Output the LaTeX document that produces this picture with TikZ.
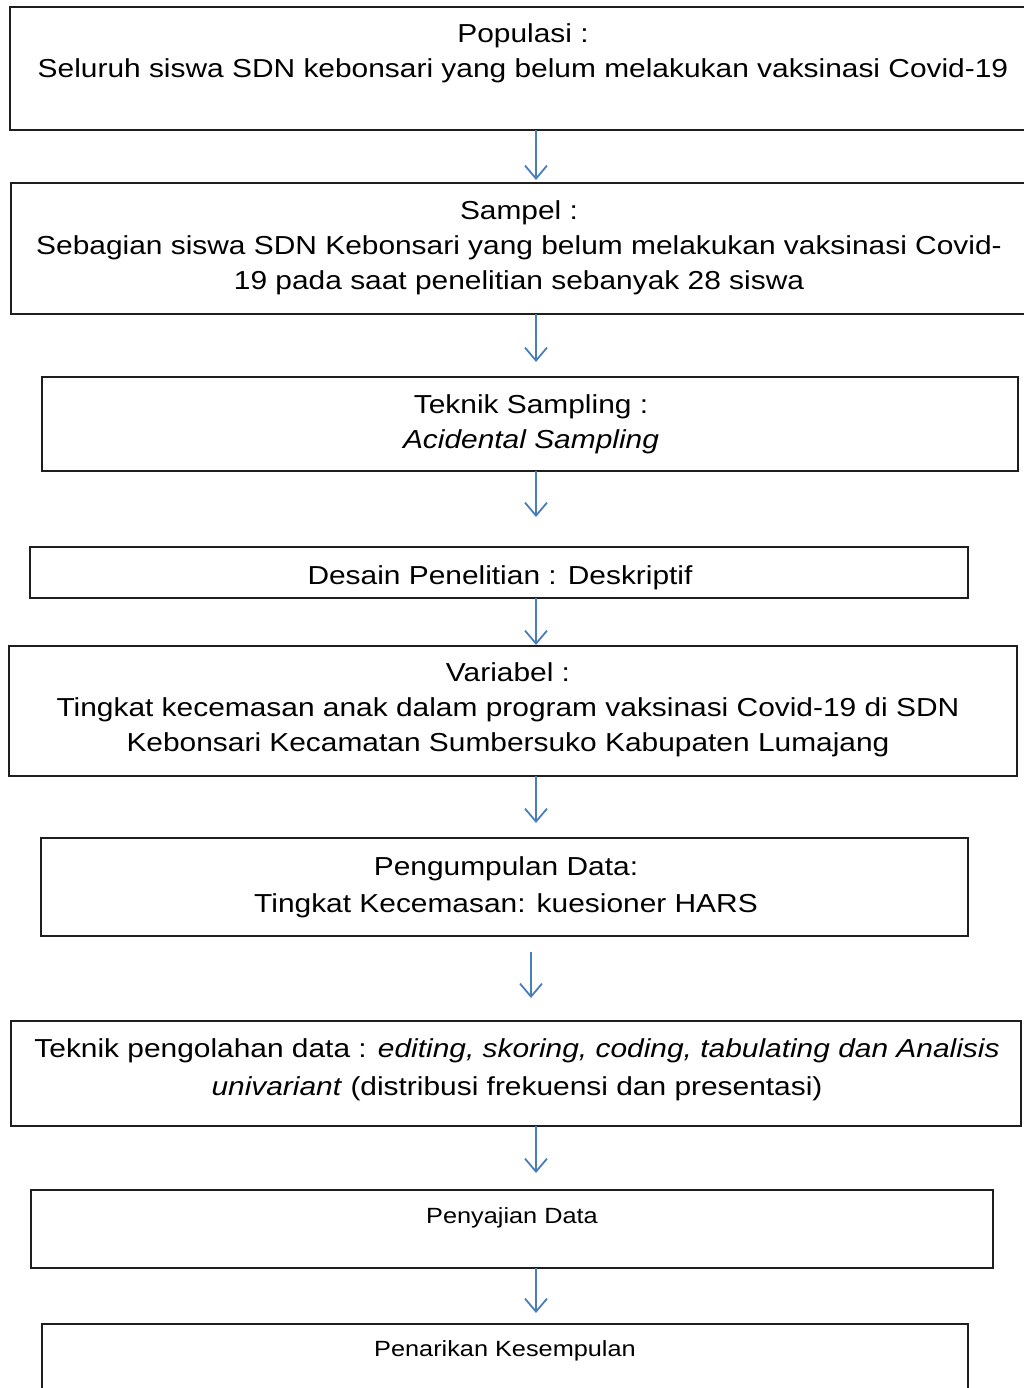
\documentclass[tikz,border=0pt]{standalone}
\usepackage{fontspec}
\setmainfont{Liberation Sans}[FakeStretch=1.15]
\usetikzlibrary{arrows.meta}
\definecolor{arrblue}{HTML}{4A7EBB}
\definecolor{boxline}{HTML}{1E1E1E}
\tikzset{
  flowbox/.style={draw=boxline, line width=2.2pt, fill=none},
  bigtext/.style={anchor=north, inner sep=0pt, align=center, font=\fontsize{26}{35}\selectfont},
  smalltext/.style={anchor=north, inner sep=0pt, align=center, font=\fontsize{22}{28}\selectfont},
  arr/.style={draw=arrblue, line width=1.8pt, -{Straight Barb[length=13pt,width=22pt,line width=1.8pt]}}
}
\begin{document}
\begin{tikzpicture}[x=1pt,y=-1pt]
\useasboundingbox (0,0) rectangle (1024,1388);
\clip (0,0) rectangle (1024,1388);
% boxes
\draw[flowbox] (10,7) rectangle (1040,130);
\draw[flowbox] (11,183) rectangle (1040,314);
\draw[flowbox] (42,377) rectangle (1018,471);
\draw[flowbox] (30,547) rectangle (968,598);
\draw[flowbox] (9,646) rectangle (1017,776);
\draw[flowbox] (41,838) rectangle (968,936);
\draw[flowbox] (11,1021) rectangle (1021,1126);
\draw[flowbox] (31,1190) rectangle (993,1268);
\draw[flowbox] (42,1324) rectangle (968,1400);
% anchor coordinates for connectors
\coordinate (a1s) at (536,130);
\coordinate (a2n) at (536,180);
\coordinate (a2s) at (536,314);
\coordinate (a3n) at (536,362);
\coordinate (a3s) at (536,471);
\coordinate (a4n) at (536,517);
\coordinate (a4s) at (536,598);
\coordinate (a5n) at (536,645);
\coordinate (a5s) at (536,776);
\coordinate (a6n) at (536,823);
\coordinate (a6s) at (531,952);
\coordinate (a7n) at (531,998);
\coordinate (a7s) at (536,1126);
\coordinate (a8n) at (536,1173);
\coordinate (a8s) at (536,1268);
\coordinate (a9n) at (536,1313);
% texts
\node[bigtext] (t1) at (523,23) {Populasi :\\Seluruh siswa SDN kebonsari yang belum melakukan vaksinasi Covid-19};
\node[bigtext] (t2) at (519,200) {Sampel :\\Sebagian siswa SDN Kebonsari yang belum melakukan vaksinasi Covid-\\19 pada saat penelitian sebanyak 28 siswa};
\node[bigtext] (t3) at (531,394) {Teknik Sampling :\\\textit{Acidental Sampling}};
\node[bigtext] (t4) at (500,565) {Desain Penelitian : Deskriptif};
\node[bigtext] (t5) at (508,662) {Variabel :\\Tingkat kecemasan anak dalam program vaksinasi Covid-19 di SDN\\Kebonsari Kecamatan Sumbersuko Kabupaten Lumajang};
\node[bigtext, font=\fontsize{26}{37}\selectfont] (t6) at (506,856) {Pengumpulan Data:\\Tingkat Kecemasan: kuesioner HARS};
\node[bigtext, font=\fontsize{26}{38}\selectfont] (t7) at (517,1038) {Teknik pengolahan data : \textit{editing, skoring, coding, tabulating dan Analisis}\\\textit{univariant} (distribusi frekuensi dan presentasi)};
\node[smalltext] (t8) at (512,1207) {Penyajian Data};
\node[smalltext] (t9) at (505,1340) {Penarikan Kesempulan};
% connectors
\draw[arr] (a1s) -- (a2n);
\draw[arr] (a2s) -- (a3n);
\draw[arr] (a3s) -- (a4n);
\draw[arr] (a4s) -- (a5n);
\draw[arr] (a5s) -- (a6n);
\draw[arr] (a6s) -- (a7n);
\draw[arr] (a7s) -- (a8n);
\draw[arr] (a8s) -- (a9n);
\end{tikzpicture}
\end{document}
